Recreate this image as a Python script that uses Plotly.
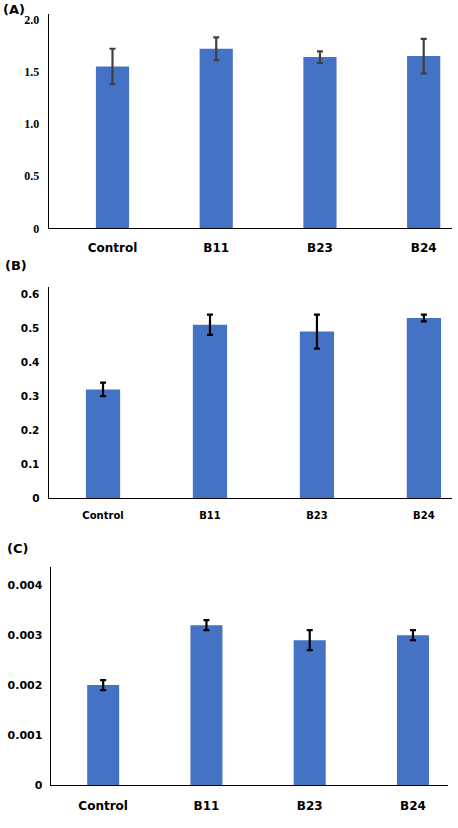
import plotly.graph_objects as go

# data
groups = ["Control", "B11", "B23", "B24"]

a_vals = [1.55, 1.72, 1.64, 1.65]
a_err = [0.17, 0.11, 0.055, 0.165]

b_vals = [0.32, 0.51, 0.49, 0.53]
b_err = [0.02, 0.03, 0.05, 0.01]

c_vals = [0.0020, 0.0032, 0.0029, 0.0030]
c_err = [0.0001, 0.0001, 0.0002, 0.0001]

a_ticks = [0, 0.5, 1.0, 1.5, 2.0]
a_ticktext = ["0", "0.5", "1.0", "1.5", "2.0"]
b_ticks = [0, 0.1, 0.2, 0.3, 0.4, 0.5, 0.6]
b_ticktext = ["0", "0.1", "0.2", "0.3", "0.4", "0.5", "0.6"]
c_ticks = [0, 0.001, 0.002, 0.003, 0.004]
c_ticktext = ["0", "0.001", "0.002", "0.003", "0.004"]

W, H = 458, 828
BLUE = "#4472C4"
SANS = "DejaVu Sans"


def px_x(v):
    return v / W


def px_y(v):
    return 1 - v / H


fig = go.Figure()

panels = [
    # values, errors, err colour, bar width, suffix
    (a_vals, a_err, "#404040", 0.32, ""),
    (b_vals, b_err, "black", 0.32, "2"),
    (c_vals, c_err, "black", 0.31, "3"),
]
for vals, err, ecol, bw, s in panels:
    fig.add_trace(go.Bar(
        x=groups, y=vals, width=bw,
        marker=dict(color=BLUE, line=dict(width=0)),
        error_y=dict(type="data", array=err, color=ecol, thickness=2.2, width=3),
        xaxis="x" + s, yaxis="y" + s, showlegend=False, hoverinfo="skip",
    ))

axis_common = dict(showline=True, linecolor="black", linewidth=1.3, automargin=False,
                   showgrid=False, zeroline=False, ticks="", fixedrange=True)

fig.update_layout(
    width=W, height=H, autosize=False,
    margin=dict(l=0, r=0, t=0, b=0, pad=0),
    paper_bgcolor="white", plot_bgcolor="white",
    # panel A
    xaxis=dict(axis_common, domain=[px_x(48.7), px_x(451.7)], anchor="y",
               range=[-0.615, 3.27], ticklabelstandoff=8,
               tickfont=dict(family=SANS, size=12, color="black", weight="bold")),
    yaxis=dict(axis_common, domain=[px_y(228.3), px_y(14)], anchor="x",
               range=[0, 2.053], tickvals=a_ticks, ticktext=a_ticktext,
               ticklabelstandoff=6,
               tickfont=dict(family="Liberation Serif", size=12, color="black", weight="bold")),
    # panel B
    xaxis2=dict(axis_common, domain=[px_x(48.7), px_x(451.7)], anchor="y2",
                range=[-0.508, 3.26], ticklabelstandoff=8,
                tickfont=dict(family=SANS, size=10, color="black", weight="bold")),
    yaxis2=dict(axis_common, domain=[px_y(498.3), px_y(287.3)], anchor="x2",
                range=[0, 0.62], tickvals=b_ticks, ticktext=b_ticktext,
                ticklabelstandoff=6,
                tickfont=dict(family=SANS, size=10.5, color="black", weight="bold")),
    # panel C
    xaxis3=dict(axis_common, domain=[px_x(50.7), px_x(447.7)], anchor="y3",
                range=[-0.508, 3.336], ticklabelstandoff=9,
                tickfont=dict(family=SANS, size=12, color="black", weight="bold")),
    yaxis3=dict(axis_common, domain=[px_y(785), px_y(566.7)], anchor="x3",
                range=[0, 0.00437], tickvals=c_ticks, ticktext=c_ticktext,
                ticklabelstandoff=5,
                tickfont=dict(family=SANS, size=11, color="black", weight="bold")),
)

# panel letters
for label, ypix, xpix in [("(A)", 9, 1), ("(B)", 265, 3), ("(C)", 548, 5)]:
    fig.add_annotation(text=label, xref="paper", yref="paper",
                       x=px_x(xpix), y=px_y(ypix), xanchor="left", yanchor="middle",
                       showarrow=False,
                       font=dict(family=SANS, size=13, color="black", weight="bold"))

# the page's default 8px body margin would push the figure off the window
fig.write_html("out.html", config={"displayModeBar": False},
               post_script="document.body.style.margin = '0';")
